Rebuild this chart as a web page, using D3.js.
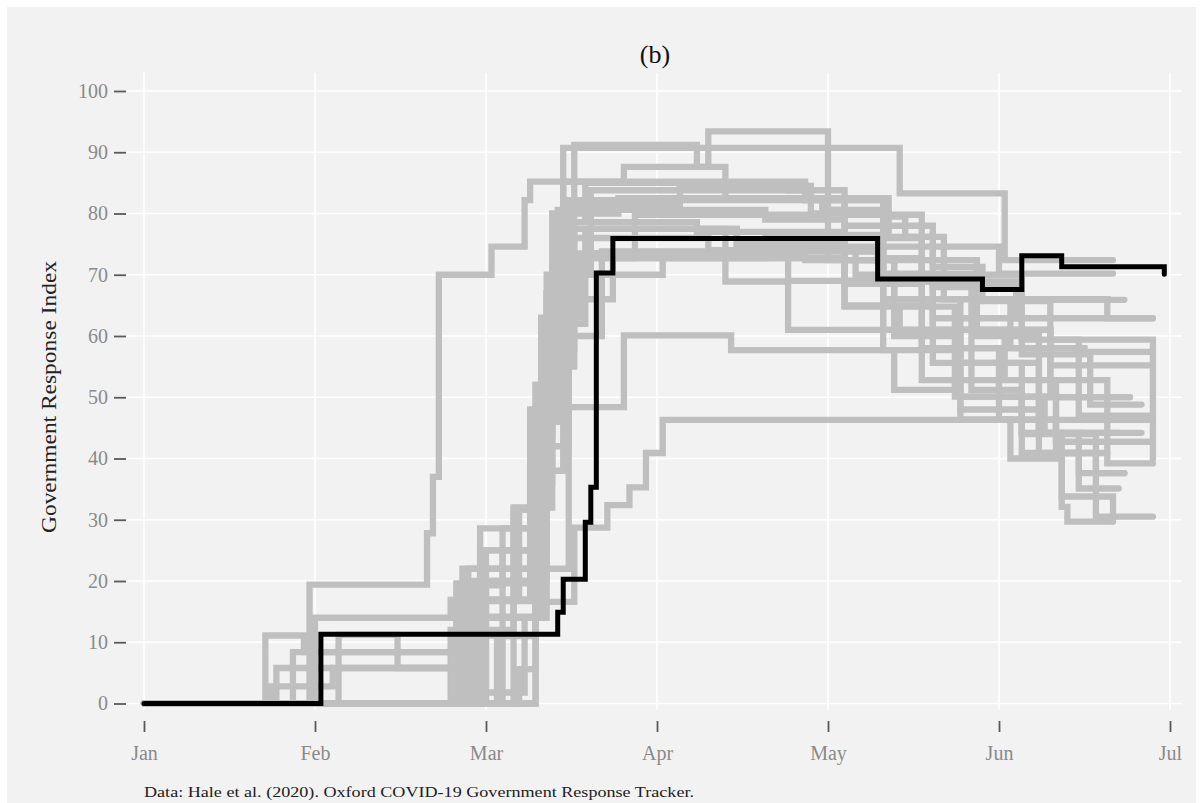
<!DOCTYPE html>
<html>
<head>
<meta charset="utf-8">
<script src="https://cdn.jsdelivr.net/npm/d3@7"></script>
<style>
  body { margin: 0; background: #ffffff; }
  svg { display: block; font-family: "Liberation Serif", "DejaVu Serif", serif; }
</style>
</head>
<body>
<div id="chart"></div>
<script>
// month tick labels and y ticks
const months = ['Jan', 'Feb', 'Mar', 'Apr', 'May', 'Jun', 'Jul'];
const yTicks = [0, 10, 20, 30, 40, 50, 60, 70, 80, 90, 100];

// highlighted country (black), step changes as [MM-DD, index]
const highlight = [['01-01', 0], ['02-02', 11.3], ['03-14', 14.9], ['03-15', 20.3], ['03-19', 29.6], ['03-20', 35.3],
    ['03-21', 70.3], ['03-24', 75.9], ['05-10', 69.3], ['05-29', 67.6], ['06-05', 73.1], ['06-12', 71.3], ['06-30', 70.1]];

// other countries (grey)
const g01 = [['01-01', 0], ['01-31', 19.4], ['02-20', 27.8], ['02-21', 37], ['02-22', 70], ['03-02', 74.6], ['03-08', 82.2], ['03-09', 85.2],
    ['04-27', 82.2], ['05-04', 79.8], ['05-18', 68.9], ['06-04', 62.9], ['06-28', 62.9]];
const g02 = [['01-01', 0], ['02-26', 16.7], ['03-09', 46], ['03-12', 67], ['03-15', 85.2], ['03-26', 87.6], ['04-10', 93.4], ['05-01', 80.6],
    ['05-04', 64.8], ['05-14', 61], ['06-10', 59.4], ['06-28', 39.9]];
const g03 = [['01-01', 0], ['02-01', 14], ['02-24', 16.9], ['03-07', 31.6], ['03-11', 63], ['03-14', 80.6], ['03-17', 91.2], ['04-08', 87.6],
    ['04-13', 82.5], ['05-12', 79.5], ['05-15', 76.2], ['05-20', 71.3], ['05-29', 65.9], ['06-23', 65.9]];
const g04 = [['01-01', 0], ['02-27', 11.1], ['03-10', 36], ['03-13', 70], ['03-15', 90.7], ['05-14', 83.3], ['06-02', 72.4], ['06-21', 72.4]];
const g05 = [['01-01', 0], ['01-23', 11.1], ['01-30', 8.4], ['02-29', 25], ['03-10', 52], ['03-14', 72], ['03-20', 83.8], ['04-27', 82.2],
    ['05-11', 74.6], ['06-01', 70.2], ['06-21', 70.2]];
const g06 = [['01-01', 0], ['02-25', 19.6], ['03-11', 44], ['03-13', 63], ['03-16', 82.2], ['05-11', 72.7], ['05-18', 61], ['06-10', 55.2],
    ['06-28', 55.2]];
const g07 = [['01-01', 0], ['01-24', 2.8], ['02-04', 5.8], ['02-27', 14.2], ['03-10', 38], ['03-13', 58], ['03-17', 80.6], ['04-20', 79],
    ['05-04', 72.4], ['05-13', 64.8], ['05-24', 50.1], ['06-09', 44.2], ['06-26', 44.2]];
const g08 = [['01-01', 0], ['02-29', 28.6], ['03-11', 48], ['03-14', 67], ['03-18', 72.7], ['03-28', 79.8], ['05-01', 72.4], ['05-11', 68.9],
    ['05-20', 61], ['06-02', 52.8], ['06-11', 42.7], ['06-28', 42.7]];
const g09 = [['01-01', 0], ['03-01', 20], ['03-12', 42], ['03-16', 60], ['03-22', 73.8], ['04-13', 68.9], ['04-24', 61], ['05-11', 57.7],
    ['05-25', 50.1], ['06-05', 40.9], ['06-18', 37.6], ['06-23', 37.6]];
const g10 = [['01-01', 0], ['02-24', 12], ['03-06', 32], ['03-13', 55], ['03-16', 66], ['03-24', 72.7], ['05-04', 69], ['05-11', 61],
    ['05-27', 51.2], ['06-05', 44.2], ['06-12', 33.8], ['06-18', 30.5], ['06-28', 30.5]];
const g11 = [['01-01', 0], ['03-07', 5.6], ['03-10', 22], ['03-16', 48.4], ['03-26', 60.1], ['04-14', 57.7], ['05-13', 51.2], ['05-25', 46.4],
    ['06-03', 40], ['06-12', 32.1], ['06-13', 29.7], ['06-21', 29.7]];
const g12 = [['01-01', 0], ['03-10', 16.6], ['03-17', 28.7], ['03-23', 32.4], ['03-27', 35.3], ['03-30', 40.9], ['04-02', 46.3], ['06-28', 46.3]];
const g13 = [['01-01', 0], ['02-28', 17], ['03-11', 56], ['03-14', 78.6], ['03-19', 85], ['04-24', 83.8], ['05-04', 78], ['05-20', 68],
    ['06-05', 57], ['06-17', 48.8], ['06-26', 48.8]];
const g14 = [['01-01', 0], ['01-25', 5.8], ['02-27', 22], ['03-09', 40], ['03-11', 58], ['03-13', 70], ['03-20', 77.5], ['04-15', 74.6],
    ['05-11', 66], ['05-25', 55.6], ['06-08', 44.2], ['06-22', 44.2]];
const g15 = [['01-01', 0], ['01-28', 8.4], ['02-25', 19.3], ['03-04', 28.6], ['03-11', 61], ['03-13', 80], ['03-25', 82.5], ['04-30', 80.6],
    ['05-11', 70.2], ['05-28', 65.7], ['06-10', 52.8], ['06-20', 39.2], ['06-28', 39.2]];
const g16 = [['01-01', 0], ['03-01', 25], ['03-10', 52], ['03-15', 72], ['03-17', 77.5], ['04-15', 75], ['05-04', 68.5], ['05-18', 58],
    ['06-01', 50.1], ['06-11', 40.9], ['06-15', 35.1], ['06-22', 35.1]];
const g17 = [['01-01', 0], ['03-06', 31.6], ['03-12', 67], ['03-16', 81.5], ['04-05', 84.5], ['04-28', 80], ['05-12', 76.2], ['05-22', 66],
    ['06-03', 58], ['06-16', 57.4], ['06-28', 57.4]];
const g18 = [['01-01', 0], ['02-05', 11.2], ['02-15', 5.8], ['02-28', 20], ['03-09', 48], ['03-12', 70], ['03-16', 76], ['04-10', 74],
    ['05-06', 70], ['05-20', 62.9], ['06-05', 59.4], ['06-15', 47], ['06-28', 47]];
const g19 = [['01-01', 0], ['02-29', 1.8], ['03-08', 14], ['03-12', 46], ['03-14', 66], ['03-17', 73.5], ['04-20', 76.5], ['05-10', 72.4],
    ['05-28', 60], ['06-08', 44.2], ['06-15', 37.6], ['06-23', 37.6]];
const g20 = [['01-01', 0], ['03-03', 11], ['03-10', 40], ['03-12', 58], ['03-14', 70], ['03-19', 77.5], ['04-13', 73.8], ['04-24', 69],
    ['05-11', 61], ['05-18', 52.8], ['06-01', 46.4], ['06-11', 42.7], ['06-28', 42.7]];
const g21 = [['01-01', 0], ['03-04', 25], ['03-12', 50], ['03-16', 63], ['03-18', 70], ['04-02', 72.7], ['05-04', 65], ['05-20', 55.6],
    ['06-05', 44], ['06-18', 33.8], ['06-21', 29.7]];
const g22 = [['01-01', 0], ['02-26', 22], ['03-10', 48], ['03-13', 70], ['03-16', 78.6], ['04-08', 77], ['05-04', 76], ['05-18', 70],
    ['06-05', 66], ['06-20', 62.9], ['06-28', 62.9]];
const g23 = [['01-01', 0], ['03-10', 31], ['03-12', 53], ['03-16', 68], ['03-18', 72.7], ['04-20', 73.8], ['05-11', 69], ['05-27', 61],
    ['06-10', 50], ['06-24', 50]];
const g24 = [['01-01', 0], ['02-29', 14], ['03-11', 38], ['03-15', 55], ['03-17', 62], ['03-19', 73.5], ['04-27', 72.4], ['05-13', 60],
    ['05-25', 48], ['06-08', 40.9], ['06-20', 40.9]];

const greyTracks = [g01, g02, g03, g04, g05, g06, g07, g08, g09, g10, g11, g12,
    g13, g14, g15, g16, g17, g18, g19, g20, g21, g22, g23, g24];

// MM-DD -> months since 1 Jan (each month takes the same width)
function toMonth(s) {
    const [mm, dd] = s.split('-').map(Number);
    const days = new Date(2020, mm, 0).getDate();
    return (mm - 1) + (dd - 1) / days;
}

const width = 1203;
const height = 803;

const svg = d3.select('#chart').append('svg')
    .attr('width', width)
    .attr('height', height);

svg.append('rect')
    .attr('x', 7).attr('y', 7)
    .attr('width', 1189).attr('height', 796)
    .attr('fill', '#f2f2f2');

const x = d3.scaleLinear().domain([0, 6]).range([144, 1170]);
const y = d3.scaleLinear().domain([0, 100]).range([703.5, 91]);

// grid
const grid = svg.append('g');
grid.selectAll('line.h')
    .data(yTicks)
    .enter().append('line')
    .attr('x1', x(-0.1)).attr('x2', x(6.07))
    .attr('y1', d => y(d)).attr('y2', d => y(d))
    .attr('stroke', '#ffffff')
    .attr('stroke-width', 1.6);
grid.selectAll('line.v')
    .data(d3.range(months.length))
    .enter().append('line')
    .attr('x1', d => x(d)).attr('x2', d => x(d))
    .attr('y1', y(103)).attr('y2', y(-1))
    .attr('stroke', '#ffffff')
    .attr('stroke-width', 1.6);

// axes (detached ticks, no domain line)
const yAxis = svg.append('g')
    .attr('transform', 'translate(126,0)')
    .call(d3.axisLeft(y).tickValues(yTicks).tickSize(12).tickPadding(6));
const xAxis = svg.append('g')
    .attr('transform', 'translate(0,721)')
    .call(d3.axisBottom(x).tickValues(d3.range(months.length)).tickFormat(i => months[i]).tickSize(11).tickPadding(14));

[yAxis, xAxis].forEach(ax => {
    ax.select('.domain').remove();
    ax.selectAll('.tick line').attr('stroke', '#5a5a5a').attr('stroke-width', 1.8);
    ax.selectAll('.tick text')
        .attr('fill', '#8a8a8a')
        .attr('font-size', 20)
        .attr('font-family', '"Liberation Serif", serif');
});

const line = d3.line()
    .x(d => x(toMonth(d[0])))
    .y(d => y(d[1]))
    .curve(d3.curveStepAfter);

svg.append('g')
    .selectAll('path')
    .data(greyTracks)
    .enter().append('path')
    .attr('d', line)
    .attr('fill', 'none')
    .attr('stroke', '#bfbfbf')
    .attr('stroke-width', 6.3)
    .attr('stroke-linecap', 'round');

svg.append('path')
    .datum(highlight)
    .attr('d', line)
    .attr('fill', 'none')
    .attr('stroke', '#000000')
    .attr('stroke-width', 5)
    .attr('stroke-linecap', 'round');

// texts
svg.append('text')
    .attr('x', 655).attr('y', 63)
    .attr('text-anchor', 'middle')
    .attr('font-size', 26)
    .attr('fill', '#111')
    .text('(b)');

svg.append('text')
    .attr('transform', 'translate(56,397) rotate(-90)')
    .attr('text-anchor', 'middle')
    .attr('font-size', 21)
    .attr('textLength', 272)
    .attr('lengthAdjust', 'spacingAndGlyphs')
    .attr('fill', '#222')
    .text('Government Response Index');

svg.append('text')
    .attr('x', 144).attr('y', 797)
    .attr('font-size', 15.5)
    .attr('textLength', 550)
    .attr('lengthAdjust', 'spacingAndGlyphs')
    .attr('fill', '#222')
    .text('Data: Hale et al. (2020). Oxford COVID-19 Government Response Tracker.');
</script>
</body>
</html>
